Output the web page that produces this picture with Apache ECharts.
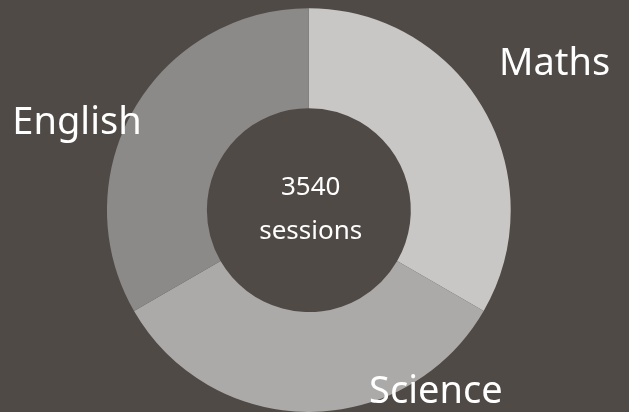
<!DOCTYPE html>
<html>
<head>
<meta charset="utf-8">
<script src="https://cdn.jsdelivr.net/npm/echarts@6/dist/echarts.min.js"></script>
<style>
html,body{margin:0;padding:0;background:#4f4a46;}
#chart{width:629px;height:412px;}
</style>
</head>
<body>
<div id="chart"></div>
<script>
// ---- data ----
const categories = ['Maths', 'Science', 'English'];
const sessions = [1180, 1180, 1180];
const centerUnit = 'sessions';

// ---- styling / label nudges (not data) ----
const sliceColors = ['#c8c7c5', '#abaaa8', '#8b8a88'];
const labelNudge = [[66, -45], [122, -20], [-52, 14]];
const FONT = '"Noto Sans", sans-serif';

const total = sessions.reduce((a, b) => a + b, 0);

const chart = echarts.init(document.getElementById('chart'));
chart.setOption({
  backgroundColor: '#4f4a46',
  animation: false,
  title: {
    text: total + '\n' + centerUnit,
    left: '48.6%',
    top: '39%',
    textAlign: 'center',
    textStyle: { color: '#ffffff', fontSize: 26, fontWeight: 'normal', fontFamily: FONT, lineHeight: 44 }
  },
  series: [{
    type: 'pie',
    center: ['49.1%', '51%'],
    radius: ['49.5%', '98%'],
    startAngle: 90,
    clockwise: true,
    avoidLabelOverlap: false,
    label: {
      show: true,
      position: 'outside',
      color: '#ffffff',
      fontSize: 38,
      fontFamily: FONT,
      formatter: '{b}'
    },
    labelLine: { show: false, length: 0, length2: 0 },
    labelLayout: function (p) {
      const n = labelNudge[p.dataIndex];
      return { align: 'center', verticalAlign: 'middle', dx: n[0], dy: n[1] };
    },
    itemStyle: { borderWidth: 0 },
    emphasis: { disabled: true },
    data: categories.map((c, i) => ({ name: c, value: sessions[i], itemStyle: { color: sliceColors[i] } }))
  }]
});
</script>
</body>
</html>
